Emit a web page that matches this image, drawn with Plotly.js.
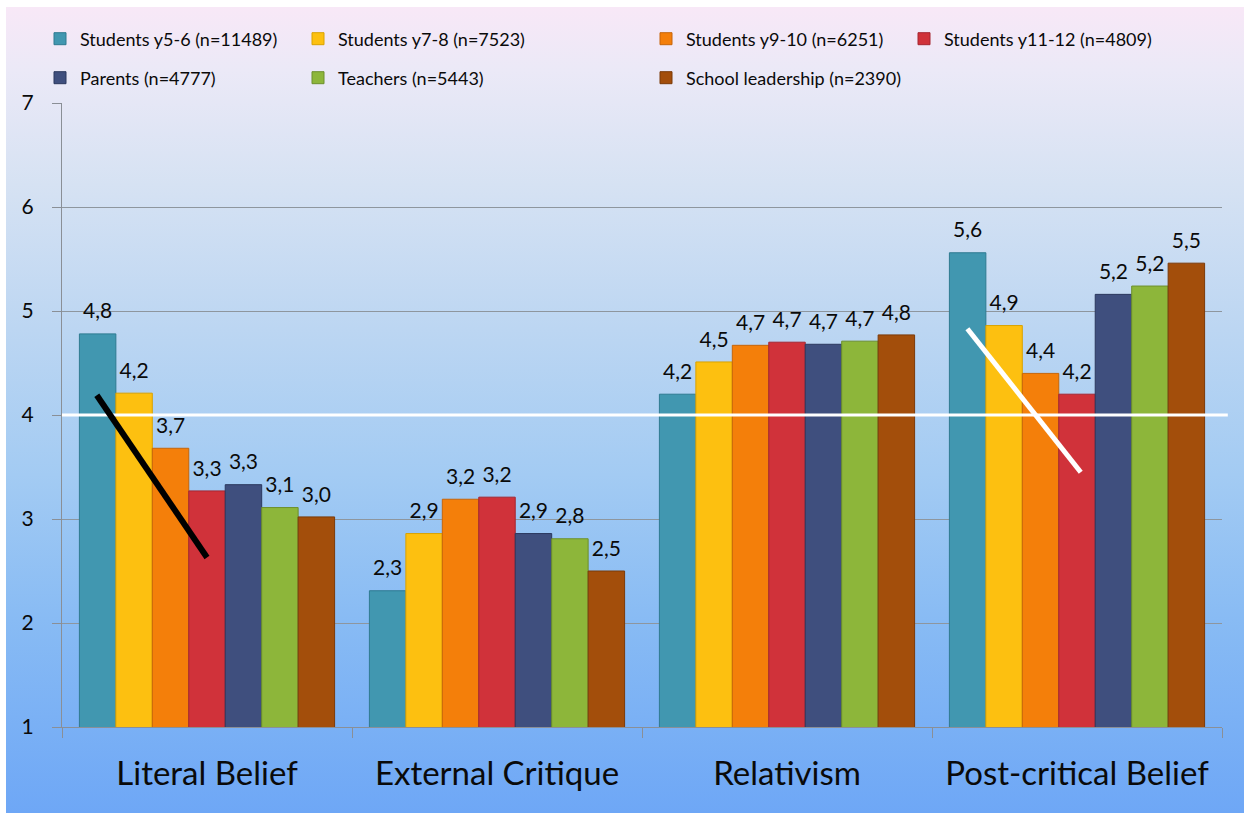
<!DOCTYPE html>
<html>
<head>
<meta charset="utf-8">
<script src="https://cdn.plot.ly/plotly-3.0.1.min.js"></script>
<style>
  html, body { margin:0; padding:0; background:#ffffff; }
  #bg { position:absolute; left:6px; top:7px; width:1238px; height:806px;
        background: linear-gradient(to bottom, #f8e8f7 0%, #ebe9f7 8%, #d6e2f3 22%, #bcd6f2 40%, #a3cbf3 58%, #88bbf4 76%, #6ea7f6 100%); }
  #chart { position:absolute; left:0; top:0; width:1249px; height:814px; }
</style>
</head>
<body>
<div id="bg"></div>
<div id="chart"></div>
<script>
// ---- data ----
const categories = ["Literal Belief", "External Critique", "Relativism", "Post-critical Belief"];
const seriesNames = [
  "Students y5-6 (n=11489)",
  "Students y7-8 (n=7523)",
  "Students y9-10 (n=6251)",
  "Students y11-12 (n=4809)",
  "Parents (n=4777)",
  "Teachers (n=5443)",
  "School leadership (n=2390)"
];
const studentsY56   = [4.78, 2.31, 4.20, 5.56];
const studentsY78   = [4.21, 2.86, 4.51, 4.86];
const studentsY910  = [3.68, 3.19, 4.67, 4.40];
const studentsY1112 = [3.27, 3.21, 4.70, 4.20];
const parents       = [3.33, 2.86, 4.68, 5.16];
const teachers      = [3.11, 2.81, 4.71, 5.24];
const leadership    = [3.02, 2.50, 4.77, 5.46];
const yTickVals = [1, 2, 3, 4, 5, 6, 7];
const referenceLevel = 4;
// decorative trend strokes (category index units, score units)
const blackStrokeX = [-0.38, 0.0];
const blackStrokeY = [4.19, 2.63];
const whiteStrokeX = [2.622, 3.013];
const whiteStrokeY = [4.83, 3.45];

// ---- styles ----
const seriesValues = [studentsY56, studentsY78, studentsY910, studentsY1112, parents, teachers, leadership];
const fillColors = ["#4197b0", "#fdc010", "#f47f0a", "#d0323a", "#3f4f7e", "#8db63a", "#a34e0b"];
const edgeColors = ["#2e7a90", "#d9a200", "#c6650a", "#a52630", "#2b385e", "#6d8f2c", "#7b3a08"];
const legendPos = [
  [40, 39], [298, 39], [646, 39], [904, 39],
  [40, 78], [298, 78], [646, 78]
];
const FONT = "Lato, 'Open Sans', sans-serif";
const W = 1249, H = 814;

const traces = seriesValues.map((vals, i) => ({
  type: "bar",
  name: seriesNames[i],
  x: categories,
  y: vals,
  marker: { color: fillColors[i], line: { color: edgeColors[i], width: 1 } },
  texttemplate: "<span style='font-size:21px'>%{y:.1f}</span><br><span style='color:rgba(0,0,0,0)'>.</span>",
  textposition: "outside",
  constraintext: "none",
  cliponaxis: false,
  textfont: { family: FONT, size: 8, color: "#0a0a0a" },
  hoverinfo: "skip",
  legend: i === 0 ? "legend" : "legend" + (i + 1)
}));

const layout = {
  width: W, height: H,
  showlegend: true,
  paper_bgcolor: "rgba(0,0,0,0)",
  plot_bgcolor: "rgba(0,0,0,0)",
  separators: ", ",
  font: { family: FONT, color: "#0a0a0a" },
  margin: { l: 62, r: 27, t: 103, b: 87, autoexpand: false },
  barmode: "group",
  bargap: 0.12,
  bargroupgap: 0,
  xaxis: {
    type: "category",
    tickson: "boundaries",
    ticks: "outside",
    ticklen: 10,
    tickcolor: "#8a8f96",
    showline: true,
    linecolor: "#8a8f96",
    linewidth: 1,
    showgrid: false,
    tickangle: 0,
    automargin: false,
    tickfont: { family: FONT, size: 33, color: "#0a0a0a" },
    ticklabelstandoff: 17
  },
  yaxis: {
    range: [1, 7],
    tickvals: yTickVals,
    ticks: "outside",
    ticklen: 9,
    tickcolor: "#8a8f96",
    showline: true,
    linecolor: "#8a8f96",
    showgrid: true,
    gridcolor: "#8e969e",
    gridwidth: 1,
    zeroline: false,
    automargin: false,
    tickfont: { family: FONT, size: 21, color: "#0a0a0a" },
    ticklabelstandoff: 14
  },
  shapes: [
    { type: "line", xref: "paper", yref: "y", x0: 0, x1: 1.005, y0: referenceLevel, y1: referenceLevel,
      line: { color: "#ffffff", width: 3 } },
    { type: "line", xref: "x", yref: "y", x0: blackStrokeX[0], x1: blackStrokeX[1], y0: blackStrokeY[0], y1: blackStrokeY[1],
      line: { color: "#000000", width: 6 } },
    { type: "line", xref: "x", yref: "y", x0: whiteStrokeX[0], x1: whiteStrokeX[1], y0: whiteStrokeY[0], y1: whiteStrokeY[1],
      line: { color: "#ffffff", width: 5 } }
  ]
};

legendPos.forEach((p, i) => {
  const key = i === 0 ? "legend" : "legend" + (i + 1);
  layout[key] = {
    xref: "container", yref: "container",
    x: p[0] / W, y: 1 - p[1] / H,
    xanchor: "left", yanchor: "middle",
    bgcolor: "rgba(0,0,0,0)",
    borderwidth: 0,
    font: { family: FONT, size: 18, color: "#0a0a0a" }
  };
});

Plotly.newPlot("chart", traces, layout, { displayModeBar: false, staticPlot: true });
</script>
</body>
</html>
